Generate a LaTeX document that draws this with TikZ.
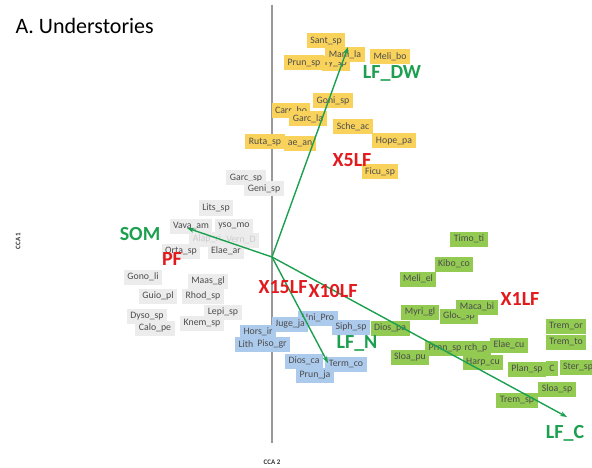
\documentclass[tikz,border=0pt]{standalone}
\usepackage{fontspec}
\setmainfont{Carlito}
\usetikzlibrary{arrows.meta}

\definecolor{understy}{RGB}{249,210,92}
\definecolor{undergry}{RGB}{236,236,236}
\definecolor{underblu}{RGB}{172,202,236}
\definecolor{undergrn}{RGB}{146,202,82}
\definecolor{vecgrn}{RGB}{28,160,80}
\definecolor{varred}{RGB}{226,26,30}

\begin{document}
\begin{tikzpicture}[x=1pt, y=-1pt,
    sp/.style={rectangle, inner xsep=3.5pt, inner ysep=0pt, minimum height=15pt, text=black!70, font=\fontsize{9.8}{10}\selectfont},
    yel/.style={sp, fill=understy},
    gry/.style={sp, fill=undergry},
    blu/.style={sp, fill=underblu},
    grn/.style={sp, fill=undergrn},
    vec/.style={-{Stealth[length=7pt, width=5pt]}, line width=1.4pt, vecgrn},
    envlab/.style={font=\fontsize{20}{22}\selectfont\bfseries, vecgrn},
    varlab/.style={font=\fontsize{20}{22}\selectfont\bfseries, varred},
    axlab/.style={font=\fontsize{7}{8}\selectfont\bfseries, text=black!80}]
  \useasboundingbox (0,0) rectangle (592,468);

  \node[anchor=west, font=\fontsize{22}{24}\selectfont] (title) at (12,26) {A. Understories};

  % axis
  \coordinate (axtop) at (272,5);
  \coordinate (axbot) at (272,443);
  \draw[line width=1.4pt, black!40] (axtop) -- (axbot);
  \node[axlab] (cca2) at (272,462) {CCA 2};
  \node[axlab, rotate=90] (cca1) at (18,241) {CCA 1};

  % yellow species
  \node[yel] (santsp) at (326,41) {Sant\_sp};
  \node[yel] (syzysp) at (336,64) {ry\_sp};
  \node[yel] (prunsp) at (304,63) {Prun\_sp};
  \node[yel] (manila) at (345,55) {Mani\_la};
  \node[yel] (melibo) at (390,57) {Meli\_bo};
  \node[yel] (carrbo) at (291,111) {Carr\_bo};
  \node[yel] (genisp) at (333,101) {Goni\_sp};
  \node[yel] (garcla) at (308,119) {Garc\_la};
  \node[yel] (scheac) at (353,127) {Sche\_ac};
  \node[yel] (rutasp) at (265,142) {Ruta\_sp};
  \node[yel] (phaean) at (300,144) {ae\_an};
  \node[yel] (hopepa) at (394,141) {Hope\_pa};
  \node[yel] (ficusp) at (380,172) {Ficu\_sp};

  % grey species
  \node[gry] (garcsp) at (246,178) {Garc\_sp};
  \node[gry] (genisq) at (264,189) {Geni\_sp};
  \node[gry] (litssp) at (216,208) {Lits\_sp};
  \node[gry, text=black!20] (alepri) at (207,239) {Alap\_ri};
  \node[gry, text=black!20] (vernar) at (241,240) {Vern\_D};
  \node[gry] (dysomo) at (234,226) {yso\_mo};
  \node[gry] (vavaam) at (191,226) {Vava\_am};
  \node[gry] (ortasp) at (181,251) {Orta\_sp};
  \node[gry] (elaear) at (226,251) {Elae\_ar};
  \node[gry] (gonoli) at (143,277) {Gono\_li};
  \node[gry] (maasgl) at (208,281) {Maas\_gl};
  \node[gry] (guiopl) at (158,296) {Guio\_pl};
  \node[gry] (rhodsp) at (203,296) {Rhod\_sp};
  \node[gry] (lepisp) at (223,312) {Lepi\_sp};
  \node[gry] (dysosp) at (147,316) {Dyso\_sp};
  \node[gry] (knemsp) at (202,323) {Knem\_sp};
  \node[gry] (calope) at (155,328) {Calo\_pe};

  % green species
  \node[grn] (timoti) at (469,239) {Timo\_ti};
  \node[grn] (kiboco) at (454,264) {Kibo\_co};
  \node[grn] (melie) at (418,279) {Meli\_el};
  \node[grn] (myrigl) at (420,312) {Myri\_gl};
  \node[grn] (glocsp) at (459,316) {Gloc\_sp};
  \node[grn] (macabi) at (477,307) {Maca\_bi};
  \node[grn] (diospa) at (390,328) {Dios\_pa};
  \node[grn] (sloapu) at (410,357) {Sloa\_pu};
  \node[grn] (prnnsp) at (445,348) {Prnn\_sp};
  \node[grn] (archp) at (476,348) {rch\_p};
  \node[grn] (elaecu) at (509,345) {Elae\_cu};
  \node[grn] (harpcu) at (483,362) {Harp\_cu};
  \node[grn] (plansp) at (527,369) {Plan\_sp};
  \node[grn] (csp) at (552,368) {C};
  \node[grn] (stersp) at (578,367) {Ster\_sp};
  \node[grn] (tremor) at (566,326) {Trem\_or};
  \node[grn] (tremto) at (566,342) {Trem\_to};
  \node[grn] (sloasp) at (557,389) {Sloa\_sp};
  \node[grn] (tremsp) at (517,400) {Trem\_sp};

  % blue species
  \node[blu] (unipro) at (318,318) {Uni\_Pro};
  \node[blu] (jugeja) at (290,324) {Juge\_ja};
  \node[blu] (siphsp) at (351,327) {Siph\_sp};
  \node[blu] (horsir) at (258,332) {Hors\_ir};
  \node[blu] (lith) at (246,344) {Lith};
  \node[blu] (pisogr) at (272,344) {Piso\_gr};
  \node[blu] (diosca) at (304,361) {Dios\_ca};
  \node[blu] (prunja) at (315,375) {Prun\_ja};
  \node[blu] (termco) at (346,364) {Term\_co};

  % vectors
  \coordinate (o) at (272,257);
  \coordinate (dw) at (348,47);
  \coordinate (som) at (187,228);
  \coordinate (lfn) at (328,363);
  \coordinate (lfc) at (567,417);
  \draw[vec] (o) -- (dw);
  \draw[vec] (o) -- (som);
  \draw[vec] (o) -- (lfn);
  \draw[vec] (o) -- (lfc);

  \node[envlab] (lfdwlab) at (392,73) {LF\_DW};
  \node[envlab] (somlab) at (140,234) {SOM};
  \node[envlab] (lfnlab) at (357,343) {LF\_N};
  \node[envlab] (lfclab) at (565,433) {LF\_C};
  \node[varlab] (x5lab) at (352,160) {X5LF};
  \node[varlab] (pflab) at (172,259) {PF};
  \node[varlab] (x15lab) at (283,287) {X15LF};
  \node[varlab] (x10lab) at (333,291) {X10LF};
  \node[varlab] (x1lab) at (520,299) {X1LF};
\end{tikzpicture}
\end{document}
